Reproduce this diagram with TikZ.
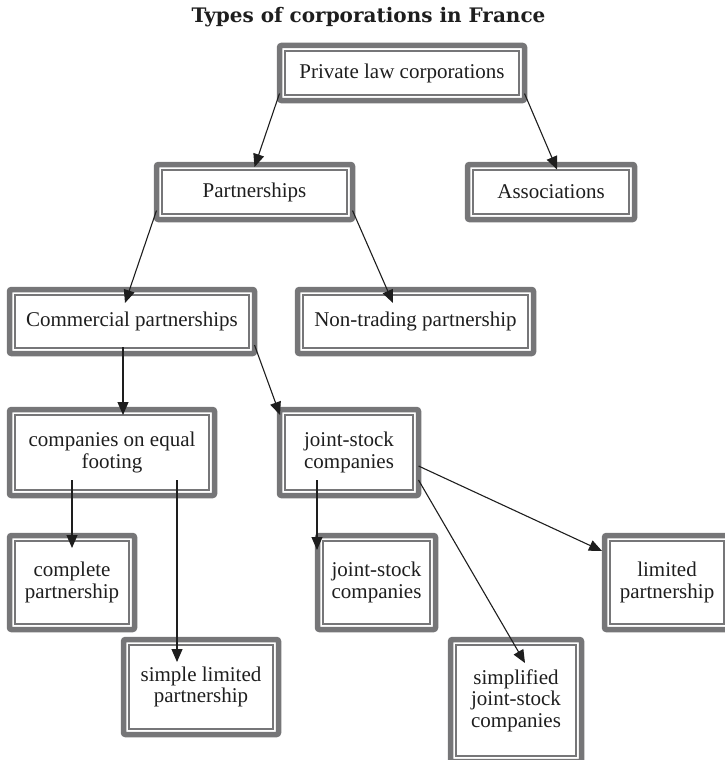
\documentclass[tikz,border=0pt]{standalone}
\usepackage{fontspec}
\setmainfont{Liberation Serif}
\newfontfamily\titlefont{DejaVu Serif}
\usetikzlibrary{calc, arrows.meta}
\definecolor{framegray}{RGB}{118,118,120}
\definecolor{inkblack}{RGB}{30,30,30}

\tikzset{
  corp/.style={draw=framegray, line width=5.5pt, rounded corners=2pt, align=center,
    inner sep=0pt, outer sep=0pt, font=\fontsize{21}{21.5}\selectfont, text=inkblack,
    path picture={\draw[framegray, line width=1.3pt, sharp corners]
      ([shift={(5.5pt,5.5pt)}]path picture bounding box.south west) rectangle
      ([shift={(-5.5pt,-5.5pt)}]path picture bounding box.north east);}},
  link/.style={draw=inkblack, line width=1.1pt, -{Triangle[length=13pt,width=11pt]}}
}

\begin{document}
\begin{tikzpicture}[x=1pt, y=-1pt]
    \useasboundingbox (0,0) rectangle (724,760);
    \node[font=\titlefont\bfseries\fontsize{20}{20}\selectfont, text=inkblack, anchor=base] (title) at (368.5,23) {Types of corporations in France};

    \node[corp, minimum width=245pt, minimum height=55pt] (priv) at (402,73) {Private law corporations};
    \node[corp, minimum width=196pt, minimum height=55pt] (part) at (254.5,192) {Partnerships};
    \node[corp, minimum width=167pt, minimum height=55pt] (assoc) at (551,192) {Associations};
    \node[corp, minimum width=245pt, minimum height=64pt] (comm) at (132,321.5) {Commercial partnerships};
    \node[corp, minimum width=236pt, minimum height=64pt] (nontr) at (415.5,321.5) {Non-trading partnership};
    \node[corp, minimum width=205pt, minimum height=86pt] (equal) at (112,452.5) {companies on equal\\footing};
    \node[corp, minimum width=139pt, minimum height=86pt] (jsc) at (349,452.5) {joint-stock\\companies};
    \node[corp, minimum width=125pt, minimum height=94pt] (compl) at (72,582.5) {complete\\partnership};
    \node[corp, minimum width=155pt, minimum height=95pt] (simpl) at (201,687) {simple limited\\partnership};
    \node[corp, minimum width=118pt, minimum height=94pt] (jscb) at (376.5,582.5) {joint-stock\\companies};
    \node[corp, minimum width=131pt, minimum height=122pt] (simpjsc) at (516,700.5) {simplified\\joint-stock\\companies};
    \node[corp, minimum width=125pt, minimum height=94pt] (lim) at (667,582.5) {limited\\partnership};

    % connectors
    \draw[link] ($(priv.south west)+(0,-7)$) -- ($(part.north)+(0,2.5)$);
    \draw[link] ($(priv.south east)+(0,-7)$) -- ($(assoc.north)+(6,5)$);
    \draw[link] ($(part.south west)+(0,-9)$) -- ($(comm.north)+(-7,13.5)$);
    \draw[link] ($(part.south east)+(0,-9)$) -- ($(nontr.north)+(-22.5,13.5)$);
    \draw[link] ($(comm.south)+(-9,-6.5)$) -- ($(equal.north)+(11,5.5)$);
    \draw[link] ($(comm.south east)+(0,-8.5)$) -- ($(jsc.north west)+(0.5,5.5)$);
    \draw[link] ($(equal.south)+(-40,-15.5)$) -- ($(compl.north)+(0,12.5)$);
    \draw[link] ($(equal.south)+(65,-15.5)$) -- ($(simpl.north)+(-24,22.5)$);
    \draw[link] ($(jsc.south)+(-32,-15.5)$) -- ($(jscb.north west)+(-0.5,14.5)$);
    \draw[link] ($(jsc.east)+(0,27.5)$) -- ($(simpjsc.north)+(9,23.5)$);
    \draw[link] ($(jsc.east)+(0,13.5)$) -- ($(lim.north west)+(-2.5,15.5)$);
\end{tikzpicture}
\end{document}
